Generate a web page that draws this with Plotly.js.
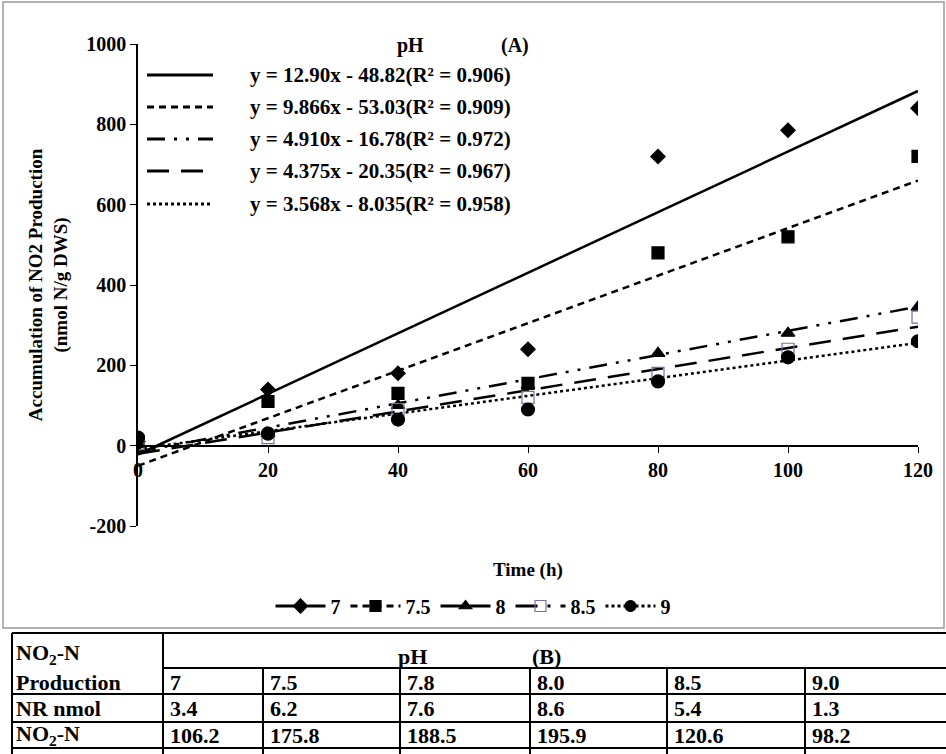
<!DOCTYPE html>
<html><head><meta charset="utf-8">
<script src="https://cdn.plot.ly/plotly-3.0.1.min.js"></script>
<style>body{margin:0;background:#fff;overflow:hidden}#chart{width:946px;height:754px}</style>
</head><body><div id="chart"></div>
<script>
const hours = [0, 20, 40, 60, 80, 100, 120];
const phLabels = ["7", "7.5", "8", "8.5", "9"];
const ph7 = [10, 140, 180, 240, 720, 785, 840];
const ph75 = [10, 110, 130, 155, 480, 520, 720];
const ph8 = [5, 30, 100, 150, 230, 280, 345];
const ph85 = [5, 20, 90, 120, 180, 240, 320];
const ph9 = [20, 30, 65, 90, 160, 220, 260];
// fitted lines as drawn (value at 0 h and at 120 h)
const trendStart = [-22, -50, -15, -20, -8];
const trendEnd = [883, 660, 346, 296, 256];
const slopes = ["12.90", "9.866", "4.910", "4.375", "3.568"];
const intercepts = ["48.82", "53.03", "16.78", "20.35", "8.035"];
const r2 = ["0.906", "0.909", "0.972", "0.967", "0.958"];
const tablePh = ["7", "7.5", "7.8", "8.0", "8.5", "9.0"];
const tableNR = ["3.4", "6.2", "7.6", "8.6", "5.4", "1.3"];
const tableNO2 = ["106.2", "175.8", "188.5", "195.9", "120.6", "98.2"];

const W = 946, H = 754;
const px = (x) => x / W;
const py = (y) => 1 - y / H;
const font = { family: "Liberation Serif", size: 20, color: "#000" };
const bold = (s) => `<b>${s}</b>`;

const seriesY = [ph7, ph75, ph8, ph85, ph9];
const symbols = ["diamond", "square", "triangle-up", "square-open", "circle"];
const markerColors = ["#000", "#000", "#000", "#7f6aa6", "#000"];
const sizes = [11, 12, 12, 12, 13];
const trendDash = ["solid", "7px,5px", "18px,9px,3px,9px,3px,9px", "22px,12px", "dot"];
const legendDash = ["22px,10px", "7px,5px", "solid", "22px,10px,3px,10px", "dot"];

const traces = [];
trendStart.forEach((y0, i) => {
  traces.push({
    x: [0, 120], y: [y0, trendEnd[i]],
    mode: "lines", line: { color: "#000", width: 2.5, dash: trendDash[i] },
    showlegend: false, hoverinfo: "skip",
  });
});
seriesY.forEach((ys, i) => {
  traces.push({
    x: hours, y: ys, mode: "markers", showlegend: false,
    marker: { symbol: symbols[i], size: sizes[i], color: markerColors[i], line: { color: markerColors[i], width: 1.2 } },
  });
  traces.push({
    x: [null], y: [null], mode: "lines+markers", name: bold(phLabels[i]),
    line: { color: "#000", width: 3, dash: legendDash[i] },
    marker: { symbol: symbols[i], size: 11, color: markerColors[i], line: { color: markerColors[i], width: 1.2 } },
  });
});

const line = (x0, y0, x1, y1, w, dash) => ({ type: "line", xref: "paper", yref: "paper",
  x0: px(x0), x1: px(x1), y0: py(y0), y1: py(y1), line: { color: "#000", width: w, dash: dash || "solid" } });
const shapes = [
  { type: "rect", xref: "paper", yref: "paper", x0: px(3), x1: px(944), y0: py(628), y1: py(2), line: { color: "#999", width: 1.5 } },
];
const ann = (x, y, t, f, anchor) => ({ xref: "paper", yref: "paper", x: px(x), y: py(y), xanchor: anchor || "center",
  yanchor: "middle", text: bold(t), showarrow: false, font: f || font });
const annotations = [ann(410, 45, "pH"), ann(515, 45, "(A)"), ann(528, 570, "Time (h)", { ...font, size: 19 })];
const eqRows = [75, 107, 139, 171, 204];
slopes.forEach((m, i) => {
  shapes.push(line(147, eqRows[i], 213, eqRows[i], 3, trendDash[i]));
  annotations.push(ann(248, eqRows[i], `y = ${m}x - ${intercepts[i]}(R² = ${r2[i]})`, { ...font, size: 21 }, "left"));
});

// table (B)
const tTop = 633, tBot = 760, colX = [12, 163, 263, 400, 530, 667, 805, 946];
const rowY = [668, 694, 722, 748];
shapes.push(line(colX[0], tTop, 946, tTop, 2));
[0, 1].forEach((c) => shapes.push(line(colX[c], tTop, colX[c], tBot, 2)));
colX.slice(2, 7).forEach((x) => shapes.push(line(x, rowY[0], x, tBot, 2)));
shapes.push(line(colX[1], rowY[0], 946, rowY[0], 2));
rowY.slice(1).forEach((y) => shapes.push(line(colX[0], y, 946, y, 2)));
const tFont = { family: "Liberation Serif", size: 22, color: "#000" };
const cell = (x, y, t) => annotations.push(ann(x, y, t, tFont, "left"));
cell(14, 654, "NO<sub>2</sub>-N");
cell(14, 682, "Production");
cell(14, 708, "NR nmol");
cell(14, 735, "NO<sub>2</sub>-N");
cell(396, 656, "pH");
cell(530, 656, "(B)");
tablePh.forEach((t, i) => cell(colX[i + 1] + 5, 682, t));
tableNR.forEach((t, i) => cell(colX[i + 1] + 5, 708, t));
tableNO2.forEach((t, i) => cell(colX[i + 1] + 5, 735, t));

const layout = {
  width: W, height: H,
  margin: { l: 0, r: 0, t: 0, b: 0, autoexpand: false },
  paper_bgcolor: "#fff", plot_bgcolor: "rgba(0,0,0,0)",
  font,
  showlegend: true,
  legend: { orientation: "h", x: 0.5, xanchor: "center", y: py(606), yanchor: "middle", font, tracegroupgap: 0, itemwidth: 50 },
  xaxis: {
    domain: [px(138), px(918)], range: [0, 120], anchor: "free", position: py(446), automargin: false,
    tickvals: hours, ticktext: hours.map(bold),
    showline: true, linecolor: "#000", linewidth: 1.5, ticks: "outside", ticklen: 6, tickcolor: "#000",
    showgrid: false, zeroline: false, tickfont: font,
  },
  yaxis: {
    domain: [py(526), py(44)], range: [-200, 1000], automargin: false,
    tickvals: [-200, 0, 200, 400, 600, 800, 1000], ticktext: [-200, 0, 200, 400, 600, 800, 1000].map(bold),
    showline: true, linecolor: "#000", linewidth: 1.5, ticks: "outside", ticklen: 6, tickcolor: "#000",
    showgrid: false, zeroline: false, tickfont: font,
    title: { text: bold("Accumulation of NO2 Production<br>(nmol N/g DWS)"), font: { ...font, size: 19 }, standoff: 14 },
  },
  shapes, annotations,
};

Plotly.newPlot("chart", traces, layout, { displayModeBar: false });
</script></body></html>
